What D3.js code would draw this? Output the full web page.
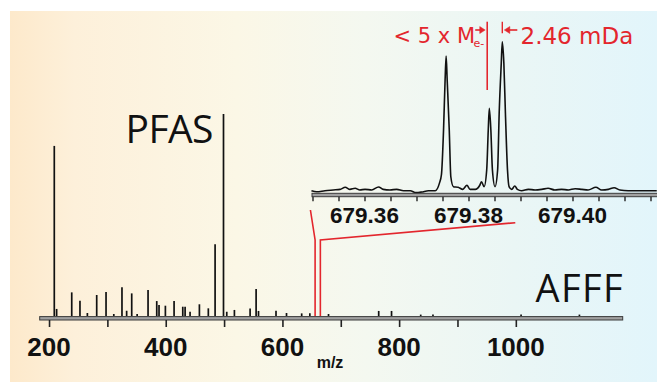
<html>
<meta charset="UTF-8">
<head>
    <title>PFAS / AFFF mass spectrum</title>
    <script src="https://d3js.org/d3.v7.min.js"></script>
    <style>
        body { margin: 0; background: white; }
        .tickLab { font-family: "Liberation Sans", Arial, sans-serif; font-weight: bold; fill: #111; }
        .big { font-family: "Open Sans", sans-serif; fill: #111; }
        .red { font-family: "DejaVu Sans", sans-serif; fill: #e3262d; }
    </style>
</head>
<body>
    <svg id="graph" width="657" height="383"></svg>
</body>
<script>
    // --- data
    // main spectrum: m/z and relative intensity (tallest = 100)
    const mainMz = [209, 213, 238.9, 253, 265.7, 281.7, 297.7, 311, 325, 333, 341.7, 351, 369.7, 384.6, 388.5,
        399.4, 414.3, 429.2, 433.2, 441.7, 457.7, 473, 484.6, 499, 504.6, 517.7, 544.6, 554.9, 559,
        589, 607, 633, 647, 679, 765, 787, 837, 858, 1009, 1109];
    const mainInt = [84.2, 3.5, 11.7, 7.6, 1.5, 10.4, 11.9, 1.0, 14.2, 2.6, 11.2, 1.0, 12.9, 7.4, 5.4,
        5.1, 7.4, 4.6, 4.6, 2.1, 5.8, 3.8, 35.5, 100, 2.1, 3.0, 3.7, 13.4, 2.5,
        2.6, 1.5, 1.3, 1.3, 1.0, 2.5, 2.5, 0.7, 0.7, 0.7, 0.7];
    const mainTicks = [200, 300, 400, 500, 600, 700, 800, 900, 1000];
    const mainLabels = [200, 400, 600, 800, 1000];
    const zoomWindow = [656, 665];

    // inset trace (high resolution around m/z 679.38)
    const insetMz = [679.3498, 679.3508, 679.3524, 679.3540, 679.3553, 679.3563, 679.3572, 679.3582, 679.3591,
        679.3601, 679.3614, 679.3627, 679.3636, 679.3649, 679.3662, 679.3675, 679.3688, 679.3699, 679.3710,
        679.3723, 679.3736, 679.3744, 679.3748, 679.3752, 679.3755, 679.3757, 679.3759, 679.3763, 679.3766,
        679.3771, 679.3780, 679.3789, 679.3797, 679.3803, 679.3813, 679.3822, 679.3825, 679.3830, 679.3835,
        679.3838, 679.3840, 679.3843, 679.3846, 679.3851, 679.3856, 679.3859, 679.3863, 679.3865, 679.3868,
        679.3871, 679.3875, 679.3878, 679.3883, 679.3889, 679.3894, 679.3902, 679.3915, 679.3928, 679.3941,
        679.3953, 679.3966, 679.3979, 679.3992, 679.4005, 679.4018, 679.4030, 679.4045, 679.4056, 679.4069,
        679.4080, 679.4091, 679.4107, 679.4123, 679.4143, 679.4162];
    const insetInt = [0.2, -0.5, 0.2, 0.7, 1.1, 2.5, 1.1, 1.8, 0.7,
        1.1, 0.7, 2.7, 1.1, 0.7, 1.1, 0.2, 0.2, -1.1, -0.7,
        0.2, 0.2, 5.1, 11, 40.7, 74, 90, 74, 40.7, 9.5,
        2.9, 2.5, 1.1, 3.8, 1.1, 1.1, 4.0, 6.2, 2.9, 14,
        40.7, 55.1, 40.7, 14, 2.9, 14, 51.8, 85.1, 99.5, 85.1,
        51.8, 14, 2.9, 1.1, 3.3, 1.1, 0.2, 1.1, 0.7, 1.1,
        1.8, 0.7, 1.1, 0.7, 1.5, 1.1, 0.7, 2.5, 0.7, 1.1,
        2.2, 0.7, 0.2, 0.2, 0.2, 0.2];
    const insetTicks = d3.range(0, 14).map(i => 679.35 + i * 0.005);
    const insetLabels = [679.36, 679.38, 679.40];
    const markerMz = 679.3836;   // red line, theoretical position
    const peakMz = 679.3865;     // red tick over the tall peak

    const g = d3.select("svg#graph");
    const red = "#e3262d";

    // background gradient
    const defs = g.append("defs");
    const grad = defs.append("linearGradient").attr("id", "bg");
    [["0%", "#fde9cb"], ["10%", "#fdf0da"], ["35%", "#fbf7e6"], ["55%", "#f4f8f0"], ["78%", "#eaf6f5"], ["100%", "#e2f5fb"]]
        .forEach(s => grad.append("stop").attr("offset", s[0]).attr("stop-color", s[1]));
    g.append("rect").attr("x", 10).attr("y", 11).attr("width", 647).attr("height", 371).attr("fill", "url(#bg)");

    // --- main spectrum scales
    const x = d3.scaleLinear().domain([184, 1183]).range([39.7, 622.6]);
    const y = d3.scaleLinear().domain([0, 100]).range([316, 114]);

    const spec = g.append("g").attr("id", "spectrum");
    spec.selectAll("line")
        .data(mainMz)
        .join("line")
        .attr("x1", d => x(d)).attr("x2", d => x(d))
        .attr("y1", y(0))
        .attr("y2", (d, i) => y(mainInt[i]))
        .attr("stroke", "#111")
        .attr("stroke-width", 1.7);

    // zoom marker (red double line) and connectors to inset
    const xi = d3.scaleLinear().domain([679.35, 679.416]).range([312.5, 655.7]);
    const yi = d3.scaleLinear().domain([0, 100]).range([191, 41]);

    const zl = g.append("g").attr("stroke", red).attr("stroke-width", 1.6).attr("fill", "none");
    zl.append("path").attr("d", `M${xi(679.3496)},210 L${x(zoomWindow[0])},240 L${x(zoomWindow[0])},${y(0)}`);
    zl.append("path").attr("d", `M${xi(679.389)},222.7 L${x(zoomWindow[1])},240 L${x(zoomWindow[1])},${y(0)}`);

    // main axis: double line band + ticks
    g.append("rect").attr("x", 39.7).attr("y", 316.6).attr("width", 583).attr("height", 3.4)
        .attr("fill", "#a0a0a0").attr("stroke", "#3a3a3a").attr("stroke-width", 1);
    const bottomAxis = d3.axisBottom(x).tickValues(mainTicks).tickSize(7).tickFormat("");
    const ax = g.append("g").attr("transform", "translate(0,320)").call(bottomAxis);
    ax.select(".domain").remove();
    ax.selectAll("line").attr("stroke", "#222").attr("stroke-width", 1.6);
    g.selectAll("text.mainLab")
        .data(mainLabels)
        .join("text")
        .attr("class", "tickLab mainLab")
        .attr("x", d => x(d)).attr("y", 355.7)
        .attr("text-anchor", "middle")
        .attr("font-size", "26px")
        .text(d => d);
    g.append("text").attr("class", "tickLab").attr("x", 330).attr("y", 368)
        .attr("text-anchor", "middle").attr("font-size", "16px").text("m/z");

    // --- inset
    const line = d3.line()
        .x((d, i) => xi(d))
        .y((d, i) => yi(insetInt[i]))
        .curve(d3.curveMonotoneX);
    g.append("path").datum(insetMz)
        .attr("d", line)
        .attr("fill", "none")
        .attr("stroke", "#111")
        .attr("stroke-width", 1.6);

    g.append("rect").attr("x", 312).attr("y", 193.3).attr("width", 346).attr("height", 3.4)
        .attr("fill", "#a0a0a0").attr("stroke", "#3a3a3a").attr("stroke-width", 1);
    const insetAxis = d3.axisBottom(xi).tickValues(insetTicks).tickSize(4.5).tickFormat("");
    const iax = g.append("g").attr("transform", "translate(0,196.7)").call(insetAxis);
    iax.select(".domain").remove();
    iax.selectAll("line").attr("stroke", "#222").attr("stroke-width", 1.4);
    g.selectAll("text.insetLab")
        .data(insetLabels)
        .join("text")
        .attr("class", "tickLab insetLab")
        .attr("x", d => xi(d)).attr("y", 222.5)
        .attr("text-anchor", "middle")
        .attr("font-size", "22.5px")
        .text(d => d.toFixed(2));

    // red annotations
    g.append("line").attr("x1", xi(markerMz)).attr("x2", xi(markerMz)).attr("y1", 21.7).attr("y2", 90)
        .attr("stroke", red).attr("stroke-width", 1.6);
    g.append("line").attr("x1", xi(peakMz)).attr("x2", xi(peakMz)).attr("y1", 21.7).attr("y2", 33.3)
        .attr("stroke", red).attr("stroke-width", 1.4);

    // arrows
    const arr = g.append("g").attr("stroke", red).attr("fill", red).attr("stroke-width", 1.6);
    const aRight = xi(markerMz) - 2;
    arr.append("line").attr("x1", aRight - 10).attr("x2", aRight - 3).attr("y1", 30).attr("y2", 30);
    arr.append("path").attr("d", `M${aRight},30 L${aRight - 5.5},26.5 L${aRight - 5.5},33.5 Z`).attr("stroke-width", 0.5);
    const aLeft = xi(peakMz) + 2;
    arr.append("line").attr("x1", aLeft + 3).attr("x2", aLeft + 13).attr("y1", 30).attr("y2", 30);
    arr.append("path").attr("d", `M${aLeft},30 L${aLeft + 5.5},26.5 L${aLeft + 5.5},33.5 Z`).attr("stroke-width", 0.5);

    g.append("text").attr("class", "red").attr("x", 393.5).attr("y", 43.3)
        .attr("font-size", "21px").text("< 5 x M");
    g.append("text").attr("class", "red").attr("x", 473.5).attr("y", 46.5)
        .attr("font-size", "11px").text("e-");
    g.append("text").attr("class", "red").attr("x", 520.5).attr("y", 43.5)
        .attr("font-size", "23px").text("2.46 mDa");

    // big labels
    g.append("text").attr("class", "big").attr("x", 125.5).attr("y", 142.7)
        .attr("font-size", "39px").attr("textLength", 88).text("PFAS");
    g.append("text").attr("class", "big").attr("x", 535.5).attr("y", 301.7)
        .attr("font-size", "38px").attr("textLength", 87).text("AFFF");
</script>
</html>
